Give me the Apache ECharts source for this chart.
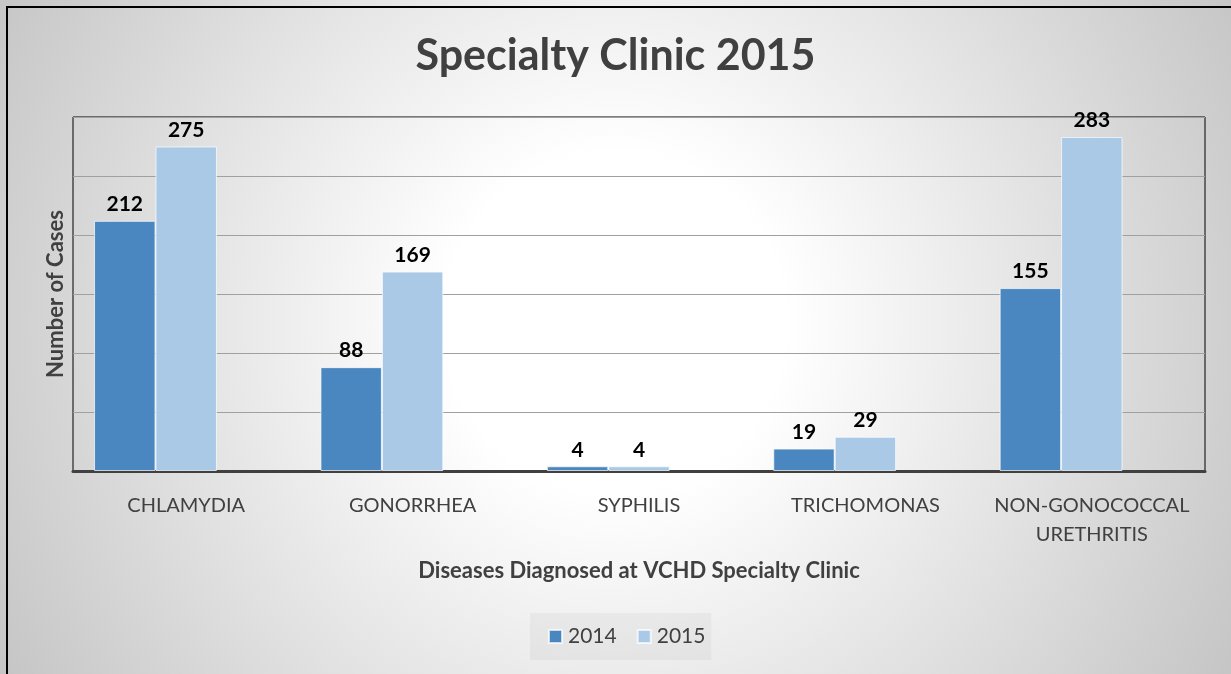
<!DOCTYPE html>
<html>
<head>
<meta charset="utf-8">
<script src="https://cdn.jsdelivr.net/npm/echarts@6/dist/echarts.min.js"></script>
<style>
  html, body { margin: 0; padding: 0; overflow: hidden; }
  body { width: 1231px; height: 674px; position: relative;
    background: radial-gradient(circle at 50% 48%, #ffffff 0px, #ffffff 170px, #c4c4c4 720px); }
  #chart { position: absolute; left: 0; top: 0; width: 1231px; height: 674px; }
</style>
</head>
<body>
<div id="chart"></div>
<script>
const categories = ['CHLAMYDIA', 'GONORRHEA', 'SYPHILIS', 'TRICHOMONAS', 'NON-GONOCOCCAL\nURETHRITIS'];
const cases2014 = [212, 88, 4, 19, 155];
const cases2015 = [275, 169, 4, 29, 283];
const emptySlot = []; // third (empty) slot in each category, as in the original
const yMax = 300;
const yInterval = 50;

const FONT = 'Lato';
const chart = echarts.init(document.getElementById('chart'), null, { renderer: 'canvas' });

const labelStyle = {
  show: true, position: 'top', distance: 6,
  color: '#000', fontFamily: FONT, fontWeight: 'bold', fontSize: 21
};

chart.setOption({
  backgroundColor: 'transparent',
  animation: false,
  graphic: [
    { type: 'line', shape: { x1: 7, y1: 7, x2: 1231, y2: 7 }, style: { stroke: '#000', lineWidth: 2 }, silent: true },
    { type: 'line', shape: { x1: 7, y1: 6, x2: 7, y2: 674 }, style: { stroke: '#000', lineWidth: 2 }, silent: true }
  ],
  title: {
    text: 'Specialty Clinic 2015',
    left: 'center', top: 30,
    textStyle: { fontFamily: FONT, fontWeight: 'bold', fontSize: 43, color: '#404040' }
  },
  legend: {
    data: ['2014', '2015'],
    bottom: 14, left: 530,
    itemWidth: 13, itemHeight: 13, itemGap: 20,
    icon: 'rect',
    padding: [13, 6, 13, 18],
    backgroundColor: 'rgba(0,0,0,0.035)',
    textStyle: { fontFamily: FONT, fontSize: 21, color: '#404040', padding: [0, 0, 0, 1] }
  },
  grid: {
    left: 73, right: 26, top: 117, bottom: 203,
    show: true, borderColor: '#000', borderWidth: 1, backgroundColor: 'transparent'
  },
  xAxis: {
    type: 'category',
    data: categories,
    name: 'Diseases Diagnosed at VCHD Specialty Clinic',
    nameLocation: 'middle', nameGap: 89,
    nameTextStyle: { fontFamily: FONT, fontWeight: 'bold', fontSize: 22, color: '#404040' },
    axisLine: { show: true, lineStyle: { color: '#404040', width: 3 } },
    axisTick: { show: false },
    axisLabel: { fontFamily: FONT, fontSize: 20, color: '#404040', margin: 20, lineHeight: 29, interval: 0 }
  },
  yAxis: {
    type: 'value',
    min: 0, max: yMax, interval: yInterval,
    name: 'Number of Cases',
    nameLocation: 'middle', nameGap: 6,
    nameTextStyle: { fontFamily: FONT, fontWeight: 'bold', fontSize: 22, color: '#404040' },
    axisLine: { show: false },
    axisTick: { show: false },
    axisLabel: { show: false },
    splitLine: { show: true, lineStyle: { color: '#a0a0a0', width: 1 } }
  },
  series: [
    {
      name: '2014', type: 'bar', data: cases2014,
      barGap: '0%', barCategoryGap: '18.6%',
      itemStyle: { color: '#4a86c0', borderColor: 'rgba(255,255,255,0.7)', borderWidth: 1 },
      label: labelStyle
    },
    {
      name: '2015', type: 'bar', data: cases2015,
      barGap: '0%', barCategoryGap: '18.6%',
      itemStyle: { color: '#a9c9e7', borderColor: 'rgba(255,255,255,0.7)', borderWidth: 1 },
      label: labelStyle
    },
    {
      name: 'slot', type: 'bar', data: emptySlot,
      barGap: '0%', barCategoryGap: '18.6%'
    }
  ]
});
</script>
</body>
</html>
